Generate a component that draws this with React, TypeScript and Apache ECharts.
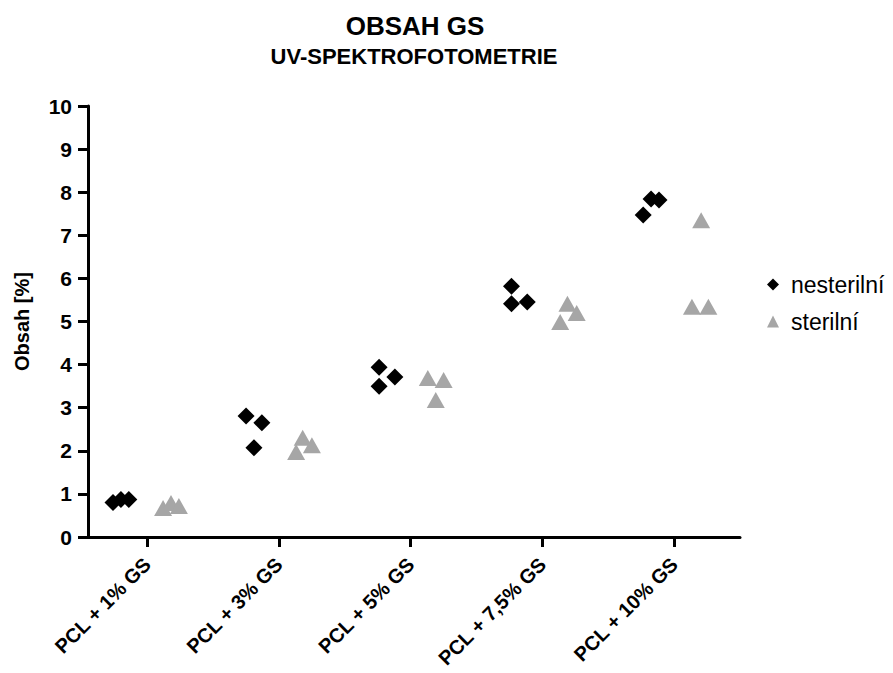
import React, { useEffect, useRef } from "react";
import * as echarts from "echarts";

const titleText = "OBSAH GS";
const subtitleText = "UV-SPEKTROFOTOMETRIE";
const yAxisName = "Obsah [%]";
const categories = ["PCL + 1% GS", "PCL + 3% GS", "PCL + 5% GS", "PCL + 7,5% GS", "PCL + 10% GS"];
const seriesNames = ["nesterilní", "sterilní"];

// values per category (3 replicates)
const nesterilniValues = [
  [0.8, 0.87, 0.87],
  [2.81, 2.07, 2.65],
  [3.94, 3.5, 3.71],
  [5.82, 5.41, 5.45],
  [7.47, 7.84, 7.82],
];
const sterilniValues = [
  [0.67, 0.79, 0.72],
  [1.97, 2.3, 2.13],
  [3.69, 3.18, 3.64],
  [4.99, 5.41, 5.2],
  [5.34, 7.35, 5.34],
];
// horizontal jitter of each replicate relative to its category
const nesterilniJitter = [
  [-0.26, -0.2, -0.14],
  [-0.25, -0.19, -0.13],
  [-0.24, -0.24, -0.12],
  [-0.235, -0.235, -0.115],
  [-0.235, -0.175, -0.115],
];
const sterilniJitter = [
  [0.12, 0.18, 0.24],
  [0.13, 0.18, 0.25],
  [0.13, 0.19, 0.25],
  [0.135, 0.19, 0.26],
  [0.135, 0.205, 0.26],
];
const yTicks = [0, 1, 2, 3, 4, 5, 6, 7, 8, 9, 10];

const FONT = 'Arial, "Liberation Sans", sans-serif';

function buildPoints(values: number[][], jitter: number[][]) {
  const pts: number[][] = [];
  values.forEach((group, gi) => {
    group.forEach((v, i) => {
      pts.push([gi + 1 + jitter[gi][i], v]);
    });
  });
  return pts;
}

export default function App() {
  const ref = useRef<HTMLDivElement>(null);
  useEffect(() => {
    if (!ref.current) return;
    const chart = echarts.init(ref.current, null, { renderer: "svg" });
    const catPositions = categories.map((_, i) => i + 1);
    chart.setOption({
      animation: false,
      backgroundColor: "#fff",
      title: [
        {
          text: titleText,
          left: 410,
          top: 8,
          textAlign: "center",
          textStyle: { fontFamily: FONT, fontWeight: "bold", fontSize: 26, color: "#000" },
        },
        {
          text: subtitleText,
          left: 409,
          top: 40,
          textAlign: "center",
          textStyle: { fontFamily: FONT, fontWeight: "bold", fontSize: 22, color: "#000" },
        },
      ],
      legend: {
        orient: "vertical",
        left: 762,
        top: 268,
        itemGap: 14,
        itemWidth: 12,
        itemHeight: 12,
        textStyle: { fontFamily: FONT, fontSize: 23, color: "#000", padding: [0, 0, 0, 7] },
        data: [
          { name: seriesNames[0], icon: "diamond", itemStyle: { color: "#000" } },
          { name: seriesNames[1], icon: "triangle", itemStyle: { color: "#a6a6a6" } },
        ],
      },
      grid: {
        left: 88,
        right: 153,
        top: 106,
        bottom: 136,
        containLabel: false,
        outerBoundsMode: "none",
      },
      xAxis: {
        type: "value",
        min: 0.55,
        max: 5.5,
        splitLine: { show: false },
        axisLine: { lineStyle: { color: "#000", width: 3 } },
        axisTick: {
          show: true,
          length: 10,
          lineStyle: { color: "#000", width: 3 },
          customValues: catPositions,
        },
        axisLabel: {
          customValues: catPositions,
          rotate: 45,
          margin: 24,
          fontFamily: FONT,
          fontWeight: "bold",
          fontSize: 20,
          color: "#000",
          formatter: (v: number) => categories[Math.round(v) - 1] ?? "",
        },
      },
      yAxis: {
        type: "value",
        min: 0,
        max: 10,
        interval: 1,
        name: yAxisName,
        nameLocation: "middle",
        nameGap: 56,
        nameTextStyle: { fontFamily: FONT, fontWeight: "bold", fontSize: 20, color: "#000" },
        splitLine: { show: false },
        axisLine: { show: true, lineStyle: { color: "#000", width: 3 } },
        axisTick: { show: true, length: 10, lineStyle: { color: "#000", width: 3 } },
        axisLabel: {
          margin: 16,
          fontFamily: FONT,
          fontWeight: "bold",
          fontSize: 21,
          color: "#000",
          customValues: yTicks,
        },
      },
      series: [
        {
          name: seriesNames[0],
          type: "scatter",
          symbol: "diamond",
          symbolSize: 17,
          itemStyle: { color: "#000", opacity: 1 },
          data: buildPoints(nesterilniValues, nesterilniJitter),
        },
        {
          name: seriesNames[1],
          type: "scatter",
          symbol: "triangle",
          symbolSize: [18, 16],
          itemStyle: { color: "#a6a6a6", opacity: 1 },
          data: buildPoints(sterilniValues, sterilniJitter),
        },
      ],
    });
    return () => chart.dispose();
  }, []);
  return <div ref={ref} style={{ width: 893, height: 673, position: "absolute", left: 0, top: 0 }} />;
}
